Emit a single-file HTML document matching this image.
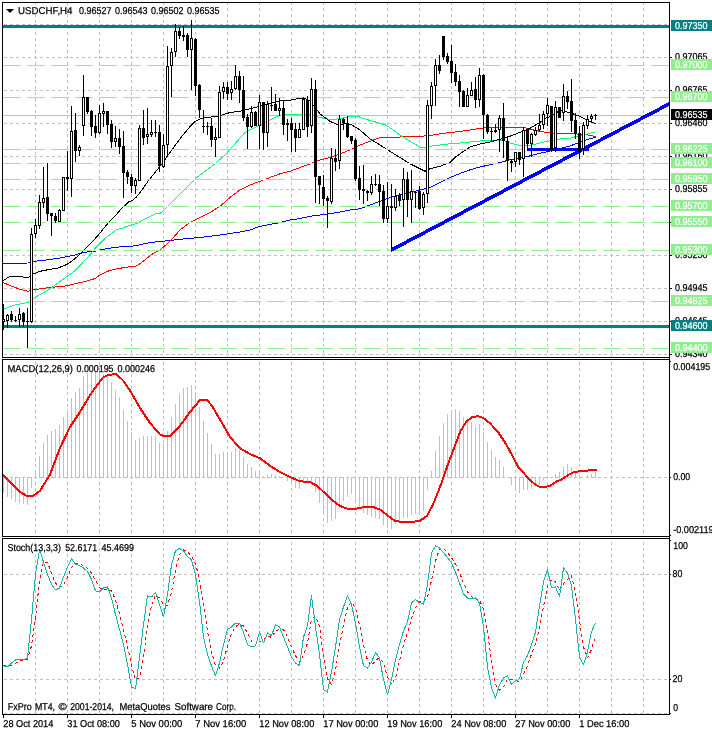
<!DOCTYPE html>
<html><head><meta charset="utf-8"><title>USDCHF,H4</title>
<style>
html,body{margin:0;padding:0;background:#fff;}
body{width:712px;height:732px;overflow:hidden;}
svg{display:block;font-family:"Liberation Sans",sans-serif;font-size:10px;}
text{stroke-width:0.25px;paint-order:stroke;}
text{white-space:pre;text-rendering:geometricPrecision;}
</style></head>
<body>
<svg width="712" height="732" viewBox="0 0 712 732">
<rect x="0" y="0" width="712" height="732" fill="#fff"/>
<g shape-rendering="crispEdges">
<line x1="35.5" y1="3" x2="35.5" y2="357" stroke="#c0c0c0" stroke-width="1" stroke-dasharray="3 3" stroke-dashoffset="1"/>
<line x1="67.5" y1="3" x2="67.5" y2="357" stroke="#c0c0c0" stroke-width="1" stroke-dasharray="3 3" stroke-dashoffset="1"/>
<line x1="99.5" y1="3" x2="99.5" y2="357" stroke="#c0c0c0" stroke-width="1" stroke-dasharray="3 3" stroke-dashoffset="1"/>
<line x1="131.5" y1="3" x2="131.5" y2="357" stroke="#c0c0c0" stroke-width="1" stroke-dasharray="3 3" stroke-dashoffset="1"/>
<line x1="163.5" y1="3" x2="163.5" y2="357" stroke="#c0c0c0" stroke-width="1" stroke-dasharray="3 3" stroke-dashoffset="1"/>
<line x1="195.5" y1="3" x2="195.5" y2="357" stroke="#c0c0c0" stroke-width="1" stroke-dasharray="3 3" stroke-dashoffset="1"/>
<line x1="227.5" y1="3" x2="227.5" y2="357" stroke="#c0c0c0" stroke-width="1" stroke-dasharray="3 3" stroke-dashoffset="1"/>
<line x1="259.5" y1="3" x2="259.5" y2="357" stroke="#c0c0c0" stroke-width="1" stroke-dasharray="3 3" stroke-dashoffset="1"/>
<line x1="291.5" y1="3" x2="291.5" y2="357" stroke="#c0c0c0" stroke-width="1" stroke-dasharray="3 3" stroke-dashoffset="1"/>
<line x1="323.5" y1="3" x2="323.5" y2="357" stroke="#c0c0c0" stroke-width="1" stroke-dasharray="3 3" stroke-dashoffset="1"/>
<line x1="355.5" y1="3" x2="355.5" y2="357" stroke="#c0c0c0" stroke-width="1" stroke-dasharray="3 3" stroke-dashoffset="1"/>
<line x1="387.5" y1="3" x2="387.5" y2="357" stroke="#c0c0c0" stroke-width="1" stroke-dasharray="3 3" stroke-dashoffset="1"/>
<line x1="419.5" y1="3" x2="419.5" y2="357" stroke="#c0c0c0" stroke-width="1" stroke-dasharray="3 3" stroke-dashoffset="1"/>
<line x1="451.5" y1="3" x2="451.5" y2="357" stroke="#c0c0c0" stroke-width="1" stroke-dasharray="3 3" stroke-dashoffset="1"/>
<line x1="483.5" y1="3" x2="483.5" y2="357" stroke="#c0c0c0" stroke-width="1" stroke-dasharray="3 3" stroke-dashoffset="1"/>
<line x1="515.5" y1="3" x2="515.5" y2="357" stroke="#c0c0c0" stroke-width="1" stroke-dasharray="3 3" stroke-dashoffset="1"/>
<line x1="547.5" y1="3" x2="547.5" y2="357" stroke="#c0c0c0" stroke-width="1" stroke-dasharray="3 3" stroke-dashoffset="1"/>
<line x1="579.5" y1="3" x2="579.5" y2="357" stroke="#c0c0c0" stroke-width="1" stroke-dasharray="3 3" stroke-dashoffset="1"/>
<line x1="611.5" y1="3" x2="611.5" y2="357" stroke="#c0c0c0" stroke-width="1" stroke-dasharray="3 3" stroke-dashoffset="1"/>
<line x1="643.5" y1="3" x2="643.5" y2="357" stroke="#c0c0c0" stroke-width="1" stroke-dasharray="3 3" stroke-dashoffset="1"/>
<line x1="35.5" y1="360" x2="35.5" y2="536" stroke="#c0c0c0" stroke-width="1" stroke-dasharray="3 3" stroke-dashoffset="4"/>
<line x1="67.5" y1="360" x2="67.5" y2="536" stroke="#c0c0c0" stroke-width="1" stroke-dasharray="3 3" stroke-dashoffset="4"/>
<line x1="99.5" y1="360" x2="99.5" y2="536" stroke="#c0c0c0" stroke-width="1" stroke-dasharray="3 3" stroke-dashoffset="4"/>
<line x1="131.5" y1="360" x2="131.5" y2="536" stroke="#c0c0c0" stroke-width="1" stroke-dasharray="3 3" stroke-dashoffset="4"/>
<line x1="163.5" y1="360" x2="163.5" y2="536" stroke="#c0c0c0" stroke-width="1" stroke-dasharray="3 3" stroke-dashoffset="4"/>
<line x1="195.5" y1="360" x2="195.5" y2="536" stroke="#c0c0c0" stroke-width="1" stroke-dasharray="3 3" stroke-dashoffset="4"/>
<line x1="227.5" y1="360" x2="227.5" y2="536" stroke="#c0c0c0" stroke-width="1" stroke-dasharray="3 3" stroke-dashoffset="4"/>
<line x1="259.5" y1="360" x2="259.5" y2="536" stroke="#c0c0c0" stroke-width="1" stroke-dasharray="3 3" stroke-dashoffset="4"/>
<line x1="291.5" y1="360" x2="291.5" y2="536" stroke="#c0c0c0" stroke-width="1" stroke-dasharray="3 3" stroke-dashoffset="4"/>
<line x1="323.5" y1="360" x2="323.5" y2="536" stroke="#c0c0c0" stroke-width="1" stroke-dasharray="3 3" stroke-dashoffset="4"/>
<line x1="355.5" y1="360" x2="355.5" y2="536" stroke="#c0c0c0" stroke-width="1" stroke-dasharray="3 3" stroke-dashoffset="4"/>
<line x1="387.5" y1="360" x2="387.5" y2="536" stroke="#c0c0c0" stroke-width="1" stroke-dasharray="3 3" stroke-dashoffset="4"/>
<line x1="419.5" y1="360" x2="419.5" y2="536" stroke="#c0c0c0" stroke-width="1" stroke-dasharray="3 3" stroke-dashoffset="4"/>
<line x1="451.5" y1="360" x2="451.5" y2="536" stroke="#c0c0c0" stroke-width="1" stroke-dasharray="3 3" stroke-dashoffset="4"/>
<line x1="483.5" y1="360" x2="483.5" y2="536" stroke="#c0c0c0" stroke-width="1" stroke-dasharray="3 3" stroke-dashoffset="4"/>
<line x1="515.5" y1="360" x2="515.5" y2="536" stroke="#c0c0c0" stroke-width="1" stroke-dasharray="3 3" stroke-dashoffset="4"/>
<line x1="547.5" y1="360" x2="547.5" y2="536" stroke="#c0c0c0" stroke-width="1" stroke-dasharray="3 3" stroke-dashoffset="4"/>
<line x1="579.5" y1="360" x2="579.5" y2="536" stroke="#c0c0c0" stroke-width="1" stroke-dasharray="3 3" stroke-dashoffset="4"/>
<line x1="611.5" y1="360" x2="611.5" y2="536" stroke="#c0c0c0" stroke-width="1" stroke-dasharray="3 3" stroke-dashoffset="4"/>
<line x1="643.5" y1="360" x2="643.5" y2="536" stroke="#c0c0c0" stroke-width="1" stroke-dasharray="3 3" stroke-dashoffset="4"/>
<line x1="35.5" y1="539" x2="35.5" y2="714" stroke="#c0c0c0" stroke-width="1" stroke-dasharray="3 3" stroke-dashoffset="3"/>
<line x1="67.5" y1="539" x2="67.5" y2="714" stroke="#c0c0c0" stroke-width="1" stroke-dasharray="3 3" stroke-dashoffset="3"/>
<line x1="99.5" y1="539" x2="99.5" y2="714" stroke="#c0c0c0" stroke-width="1" stroke-dasharray="3 3" stroke-dashoffset="3"/>
<line x1="131.5" y1="539" x2="131.5" y2="714" stroke="#c0c0c0" stroke-width="1" stroke-dasharray="3 3" stroke-dashoffset="3"/>
<line x1="163.5" y1="539" x2="163.5" y2="714" stroke="#c0c0c0" stroke-width="1" stroke-dasharray="3 3" stroke-dashoffset="3"/>
<line x1="195.5" y1="539" x2="195.5" y2="714" stroke="#c0c0c0" stroke-width="1" stroke-dasharray="3 3" stroke-dashoffset="3"/>
<line x1="227.5" y1="539" x2="227.5" y2="714" stroke="#c0c0c0" stroke-width="1" stroke-dasharray="3 3" stroke-dashoffset="3"/>
<line x1="259.5" y1="539" x2="259.5" y2="714" stroke="#c0c0c0" stroke-width="1" stroke-dasharray="3 3" stroke-dashoffset="3"/>
<line x1="291.5" y1="539" x2="291.5" y2="714" stroke="#c0c0c0" stroke-width="1" stroke-dasharray="3 3" stroke-dashoffset="3"/>
<line x1="323.5" y1="539" x2="323.5" y2="714" stroke="#c0c0c0" stroke-width="1" stroke-dasharray="3 3" stroke-dashoffset="3"/>
<line x1="355.5" y1="539" x2="355.5" y2="714" stroke="#c0c0c0" stroke-width="1" stroke-dasharray="3 3" stroke-dashoffset="3"/>
<line x1="387.5" y1="539" x2="387.5" y2="714" stroke="#c0c0c0" stroke-width="1" stroke-dasharray="3 3" stroke-dashoffset="3"/>
<line x1="419.5" y1="539" x2="419.5" y2="714" stroke="#c0c0c0" stroke-width="1" stroke-dasharray="3 3" stroke-dashoffset="3"/>
<line x1="451.5" y1="539" x2="451.5" y2="714" stroke="#c0c0c0" stroke-width="1" stroke-dasharray="3 3" stroke-dashoffset="3"/>
<line x1="483.5" y1="539" x2="483.5" y2="714" stroke="#c0c0c0" stroke-width="1" stroke-dasharray="3 3" stroke-dashoffset="3"/>
<line x1="515.5" y1="539" x2="515.5" y2="714" stroke="#c0c0c0" stroke-width="1" stroke-dasharray="3 3" stroke-dashoffset="3"/>
<line x1="547.5" y1="539" x2="547.5" y2="714" stroke="#c0c0c0" stroke-width="1" stroke-dasharray="3 3" stroke-dashoffset="3"/>
<line x1="579.5" y1="539" x2="579.5" y2="714" stroke="#c0c0c0" stroke-width="1" stroke-dasharray="3 3" stroke-dashoffset="3"/>
<line x1="611.5" y1="539" x2="611.5" y2="714" stroke="#c0c0c0" stroke-width="1" stroke-dasharray="3 3" stroke-dashoffset="3"/>
<line x1="643.5" y1="539" x2="643.5" y2="714" stroke="#c0c0c0" stroke-width="1" stroke-dasharray="3 3" stroke-dashoffset="3"/>
<line x1="4" y1="24.5" x2="669" y2="24.5" stroke="#c0c0c0" stroke-width="1" stroke-dasharray="3 3"/>
<line x1="4" y1="57.5" x2="669" y2="57.5" stroke="#c0c0c0" stroke-width="1" stroke-dasharray="3 3"/>
<line x1="4" y1="90.5" x2="669" y2="90.5" stroke="#c0c0c0" stroke-width="1" stroke-dasharray="3 3"/>
<line x1="4" y1="123.5" x2="669" y2="123.5" stroke="#c0c0c0" stroke-width="1" stroke-dasharray="3 3"/>
<line x1="4" y1="156.5" x2="669" y2="156.5" stroke="#c0c0c0" stroke-width="1" stroke-dasharray="3 3"/>
<line x1="4" y1="189.5" x2="669" y2="189.5" stroke="#c0c0c0" stroke-width="1" stroke-dasharray="3 3"/>
<line x1="4" y1="222.5" x2="669" y2="222.5" stroke="#c0c0c0" stroke-width="1" stroke-dasharray="3 3"/>
<line x1="4" y1="255.5" x2="669" y2="255.5" stroke="#c0c0c0" stroke-width="1" stroke-dasharray="3 3"/>
<line x1="4" y1="288.5" x2="669" y2="288.5" stroke="#c0c0c0" stroke-width="1" stroke-dasharray="3 3"/>
<line x1="4" y1="321.5" x2="669" y2="321.5" stroke="#c0c0c0" stroke-width="1" stroke-dasharray="3 3"/>
<line x1="4" y1="354.5" x2="669" y2="354.5" stroke="#c0c0c0" stroke-width="1" stroke-dasharray="3 3"/>
<line x1="4" y1="477.5" x2="669" y2="477.5" stroke="#c0c0c0" stroke-width="1" stroke-dasharray="3 3"/>
<line x1="4" y1="574.5" x2="669" y2="574.5" stroke="#c0c0c0" stroke-width="1" stroke-dasharray="3 3"/>
<line x1="4" y1="679.5" x2="669" y2="679.5" stroke="#c0c0c0" stroke-width="1" stroke-dasharray="3 3"/>
<line x1="4" y1="713.5" x2="669" y2="713.5" stroke="#c0c0c0" stroke-width="1" stroke-dasharray="3 3"/>
<line x1="3" y1="115.5" x2="669" y2="115.5" stroke="#c0c0c0" stroke-width="1"/>
<rect x="3" y="477.0" width="1" height="16.0" fill="#c0c0c0"/>
<rect x="7" y="477.0" width="1" height="20.0" fill="#c0c0c0"/>
<rect x="11" y="477.0" width="1" height="22.0" fill="#c0c0c0"/>
<rect x="15" y="477.0" width="1" height="25.0" fill="#c0c0c0"/>
<rect x="19" y="477.0" width="1" height="26.0" fill="#c0c0c0"/>
<rect x="23" y="477.0" width="1" height="27.0" fill="#c0c0c0"/>
<rect x="27" y="477.0" width="1" height="28.0" fill="#c0c0c0"/>
<rect x="31" y="477.0" width="1" height="11.0" fill="#c0c0c0"/>
<rect x="35" y="473" width="1" height="5.0" fill="#c0c0c0"/>
<rect x="39" y="456" width="1" height="22.0" fill="#c0c0c0"/>
<rect x="43" y="443" width="1" height="35.0" fill="#c0c0c0"/>
<rect x="47" y="435" width="1" height="43.0" fill="#c0c0c0"/>
<rect x="51" y="431" width="1" height="47.0" fill="#c0c0c0"/>
<rect x="55" y="429" width="1" height="49.0" fill="#c0c0c0"/>
<rect x="59" y="425" width="1" height="53.0" fill="#c0c0c0"/>
<rect x="63" y="417" width="1" height="61.0" fill="#c0c0c0"/>
<rect x="67" y="410" width="1" height="68.0" fill="#c0c0c0"/>
<rect x="71" y="398" width="1" height="80.0" fill="#c0c0c0"/>
<rect x="75" y="392" width="1" height="86.0" fill="#c0c0c0"/>
<rect x="79" y="388" width="1" height="90.0" fill="#c0c0c0"/>
<rect x="83" y="376" width="1" height="102.0" fill="#c0c0c0"/>
<rect x="87" y="373" width="1" height="105.0" fill="#c0c0c0"/>
<rect x="91" y="372" width="1" height="106.0" fill="#c0c0c0"/>
<rect x="95" y="371" width="1" height="107.0" fill="#c0c0c0"/>
<rect x="99" y="372" width="1" height="106.0" fill="#c0c0c0"/>
<rect x="103" y="374" width="1" height="104.0" fill="#c0c0c0"/>
<rect x="107" y="376" width="1" height="102.0" fill="#c0c0c0"/>
<rect x="111" y="382" width="1" height="96.0" fill="#c0c0c0"/>
<rect x="115" y="390" width="1" height="88.0" fill="#c0c0c0"/>
<rect x="119" y="397" width="1" height="81.0" fill="#c0c0c0"/>
<rect x="123" y="410" width="1" height="68.0" fill="#c0c0c0"/>
<rect x="127" y="421" width="1" height="57.0" fill="#c0c0c0"/>
<rect x="131" y="432" width="1" height="46.0" fill="#c0c0c0"/>
<rect x="135" y="440" width="1" height="38.0" fill="#c0c0c0"/>
<rect x="139" y="438" width="1" height="40.0" fill="#c0c0c0"/>
<rect x="143" y="436" width="1" height="42.0" fill="#c0c0c0"/>
<rect x="147" y="436" width="1" height="42.0" fill="#c0c0c0"/>
<rect x="151" y="436" width="1" height="42.0" fill="#c0c0c0"/>
<rect x="155" y="436" width="1" height="42.0" fill="#c0c0c0"/>
<rect x="159" y="443" width="1" height="35.0" fill="#c0c0c0"/>
<rect x="163" y="444" width="1" height="34.0" fill="#c0c0c0"/>
<rect x="167" y="431" width="1" height="47.0" fill="#c0c0c0"/>
<rect x="171" y="417" width="1" height="61.0" fill="#c0c0c0"/>
<rect x="175" y="404" width="1" height="74.0" fill="#c0c0c0"/>
<rect x="179" y="394" width="1" height="84.0" fill="#c0c0c0"/>
<rect x="183" y="388" width="1" height="90.0" fill="#c0c0c0"/>
<rect x="187" y="387" width="1" height="91.0" fill="#c0c0c0"/>
<rect x="191" y="385" width="1" height="93.0" fill="#c0c0c0"/>
<rect x="195" y="392" width="1" height="86.0" fill="#c0c0c0"/>
<rect x="199" y="407" width="1" height="71.0" fill="#c0c0c0"/>
<rect x="203" y="421" width="1" height="57.0" fill="#c0c0c0"/>
<rect x="207" y="433" width="1" height="45.0" fill="#c0c0c0"/>
<rect x="211" y="444" width="1" height="34.0" fill="#c0c0c0"/>
<rect x="215" y="454" width="1" height="24.0" fill="#c0c0c0"/>
<rect x="219" y="454" width="1" height="24.0" fill="#c0c0c0"/>
<rect x="223" y="452" width="1" height="26.0" fill="#c0c0c0"/>
<rect x="227" y="452" width="1" height="26.0" fill="#c0c0c0"/>
<rect x="231" y="452" width="1" height="26.0" fill="#c0c0c0"/>
<rect x="235" y="448" width="1" height="30.0" fill="#c0c0c0"/>
<rect x="239" y="450" width="1" height="28.0" fill="#c0c0c0"/>
<rect x="243" y="457" width="1" height="21.0" fill="#c0c0c0"/>
<rect x="247" y="464" width="1" height="14.0" fill="#c0c0c0"/>
<rect x="251" y="467" width="1" height="11.0" fill="#c0c0c0"/>
<rect x="255" y="471" width="1" height="7.0" fill="#c0c0c0"/>
<rect x="259" y="472" width="1" height="6.0" fill="#c0c0c0"/>
<rect x="263" y="476" width="1" height="2.0" fill="#c0c0c0"/>
<rect x="267" y="475" width="1" height="3.0" fill="#c0c0c0"/>
<rect x="271" y="474" width="1" height="4.0" fill="#c0c0c0"/>
<rect x="275" y="475" width="1" height="3.0" fill="#c0c0c0"/>
<rect x="279" y="476" width="1" height="2.0" fill="#c0c0c0"/>
<rect x="287" y="477.0" width="1" height="4.0" fill="#c0c0c0"/>
<rect x="291" y="477.0" width="1" height="6.0" fill="#c0c0c0"/>
<rect x="295" y="477.0" width="1" height="11.0" fill="#c0c0c0"/>
<rect x="299" y="477.0" width="1" height="12.0" fill="#c0c0c0"/>
<rect x="303" y="477.0" width="1" height="6.0" fill="#c0c0c0"/>
<rect x="307" y="477.0" width="1" height="6.0" fill="#c0c0c0"/>
<rect x="311" y="477.0" width="1" height="5.0" fill="#c0c0c0"/>
<rect x="315" y="477.0" width="1" height="15.0" fill="#c0c0c0"/>
<rect x="319" y="477.0" width="1" height="26.0" fill="#c0c0c0"/>
<rect x="323" y="477.0" width="1" height="38.0" fill="#c0c0c0"/>
<rect x="327" y="477.0" width="1" height="46.0" fill="#c0c0c0"/>
<rect x="331" y="477.0" width="1" height="44.0" fill="#c0c0c0"/>
<rect x="335" y="477.0" width="1" height="42.0" fill="#c0c0c0"/>
<rect x="339" y="477.0" width="1" height="31.0" fill="#c0c0c0"/>
<rect x="343" y="477.0" width="1" height="24.0" fill="#c0c0c0"/>
<rect x="347" y="477.0" width="1" height="20.0" fill="#c0c0c0"/>
<rect x="351" y="477.0" width="1" height="17.0" fill="#c0c0c0"/>
<rect x="355" y="477.0" width="1" height="26.0" fill="#c0c0c0"/>
<rect x="359" y="477.0" width="1" height="31.0" fill="#c0c0c0"/>
<rect x="363" y="477.0" width="1" height="36.0" fill="#c0c0c0"/>
<rect x="367" y="477.0" width="1" height="38.0" fill="#c0c0c0"/>
<rect x="371" y="477.0" width="1" height="40.0" fill="#c0c0c0"/>
<rect x="375" y="477.0" width="1" height="41.0" fill="#c0c0c0"/>
<rect x="379" y="477.0" width="1" height="42.0" fill="#c0c0c0"/>
<rect x="383" y="477.0" width="1" height="48.0" fill="#c0c0c0"/>
<rect x="387" y="477.0" width="1" height="51.0" fill="#c0c0c0"/>
<rect x="391" y="477.0" width="1" height="52.0" fill="#c0c0c0"/>
<rect x="395" y="477.0" width="1" height="47.0" fill="#c0c0c0"/>
<rect x="399" y="477.0" width="1" height="45.0" fill="#c0c0c0"/>
<rect x="403" y="477.0" width="1" height="41.0" fill="#c0c0c0"/>
<rect x="407" y="477.0" width="1" height="41.0" fill="#c0c0c0"/>
<rect x="411" y="477.0" width="1" height="38.0" fill="#c0c0c0"/>
<rect x="415" y="477.0" width="1" height="37.0" fill="#c0c0c0"/>
<rect x="419" y="477.0" width="1" height="38.0" fill="#c0c0c0"/>
<rect x="423" y="477.0" width="1" height="34.0" fill="#c0c0c0"/>
<rect x="427" y="477.0" width="1" height="13.0" fill="#c0c0c0"/>
<rect x="431" y="471" width="1" height="7.0" fill="#c0c0c0"/>
<rect x="435" y="451" width="1" height="27.0" fill="#c0c0c0"/>
<rect x="439" y="436" width="1" height="42.0" fill="#c0c0c0"/>
<rect x="443" y="423" width="1" height="55.0" fill="#c0c0c0"/>
<rect x="447" y="414" width="1" height="64.0" fill="#c0c0c0"/>
<rect x="451" y="410" width="1" height="68.0" fill="#c0c0c0"/>
<rect x="455" y="409" width="1" height="69.0" fill="#c0c0c0"/>
<rect x="459" y="411" width="1" height="67.0" fill="#c0c0c0"/>
<rect x="463" y="417" width="1" height="61.0" fill="#c0c0c0"/>
<rect x="467" y="420" width="1" height="58.0" fill="#c0c0c0"/>
<rect x="471" y="422" width="1" height="56.0" fill="#c0c0c0"/>
<rect x="475" y="426" width="1" height="52.0" fill="#c0c0c0"/>
<rect x="479" y="424" width="1" height="54.0" fill="#c0c0c0"/>
<rect x="483" y="432" width="1" height="46.0" fill="#c0c0c0"/>
<rect x="487" y="442" width="1" height="36.0" fill="#c0c0c0"/>
<rect x="491" y="450" width="1" height="28.0" fill="#c0c0c0"/>
<rect x="495" y="457" width="1" height="21.0" fill="#c0c0c0"/>
<rect x="499" y="460" width="1" height="18.0" fill="#c0c0c0"/>
<rect x="503" y="467" width="1" height="11.0" fill="#c0c0c0"/>
<rect x="511" y="477.0" width="1" height="8.0" fill="#c0c0c0"/>
<rect x="515" y="477.0" width="1" height="14.0" fill="#c0c0c0"/>
<rect x="519" y="477.0" width="1" height="16.0" fill="#c0c0c0"/>
<rect x="523" y="477.0" width="1" height="13.0" fill="#c0c0c0"/>
<rect x="527" y="477.0" width="1" height="13.0" fill="#c0c0c0"/>
<rect x="531" y="477.0" width="1" height="12.0" fill="#c0c0c0"/>
<rect x="535" y="477.0" width="1" height="8.0" fill="#c0c0c0"/>
<rect x="539" y="477.0" width="1" height="8.0" fill="#c0c0c0"/>
<rect x="543" y="477.0" width="1" height="3.0" fill="#c0c0c0"/>
<rect x="555" y="474" width="1" height="4.0" fill="#c0c0c0"/>
<rect x="559" y="472" width="1" height="6.0" fill="#c0c0c0"/>
<rect x="563" y="467" width="1" height="11.0" fill="#c0c0c0"/>
<rect x="567" y="464" width="1" height="14.0" fill="#c0c0c0"/>
<rect x="571" y="467" width="1" height="11.0" fill="#c0c0c0"/>
<rect x="575" y="472" width="1" height="6.0" fill="#c0c0c0"/>
<rect x="579" y="475" width="1" height="3.0" fill="#c0c0c0"/>
<rect x="587" y="475" width="1" height="3.0" fill="#c0c0c0"/>
<rect x="591" y="474" width="1" height="4.0" fill="#c0c0c0"/>
<rect x="595" y="472" width="1" height="6.0" fill="#c0c0c0"/>
</g>
<g shape-rendering="crispEdges" stroke-linejoin="round">
<polyline points="3.0,263.3 28.0,263.0 35.0,261.3 50.0,259.5 60.0,258.0 74.0,255.2 83.9,252.4 96.6,251.0 100.8,249.6 116.3,247.2 136.0,245.8 144.4,243.6 155.6,241.9 160.0,241.6 180.0,239.3 200.0,237.5 220.0,235.0 240.0,232.0 250.0,230.0 260.0,226.3 270.0,224.5 280.0,222.5 290.0,220.0 300.0,218.5 310.0,216.3 320.0,215.0 330.0,213.8 340.0,212.0 350.0,210.0 360.0,208.8 370.0,205.0 380.0,201.3 390.0,197.5 400.0,195.0 410.0,192.5 420.0,190.0 430.0,187.5 435.0,185.0 440.0,182.5 450.0,177.5 460.0,173.5 470.0,169.8 480.0,167.0 490.0,164.8 500.0,162.5 510.0,159.8 520.0,157.8 530.0,155.9 540.0,153.3 550.0,151.0 560.0,148.6 570.0,146.0 580.0,142.1 590.0,138.8 595.5,137.2" fill="none" stroke="#0000ff" stroke-width="1" />
<polyline points="3.0,282.5 10.0,285.5 20.0,289.3 28.0,291.3 35.0,289.5 50.0,287.5 67.0,285.8 80.0,282.5 81.1,282.7 95.2,278.5 100.0,275.0 109.2,270.7 117.7,268.6 124.7,267.5 136.0,266.0 140.2,263.7 147.2,258.0 152.8,253.8 160.0,250.0 170.0,241.3 180.0,230.0 190.0,222.5 200.0,217.5 210.0,212.5 220.0,206.3 230.0,197.5 240.0,190.0 250.0,185.0 260.0,181.3 270.0,177.5 280.0,173.8 290.0,171.3 300.0,167.5 310.0,163.8 320.0,160.0 330.0,157.5 340.0,153.8 350.0,150.0 360.0,145.0 370.0,141.3 380.0,137.5 390.0,137.0 400.0,137.0 410.0,136.3 420.0,136.3 430.0,135.5 440.0,133.8 450.0,132.5 460.0,131.5 470.0,130.0 480.0,128.3 490.0,127.4 500.0,127.0 510.0,127.0 520.0,127.4 525.0,127.5 530.0,129.3 540.0,131.3 550.0,132.9 560.0,133.6 570.0,133.6 580.0,134.2 590.0,135.2 595.5,136.6" fill="none" stroke="#ff0000" stroke-width="1" />
<polyline points="3.0,309.3 15.0,305.0 28.0,302.5 35.0,297.5 50.0,288.8 60.0,281.3 66.3,277.0 74.0,271.4 81.1,264.4 89.5,255.2 96.6,246.8 103.6,239.8 110.6,234.1 116.3,229.9 123.3,227.8 130.3,225.3 136.6,223.6 143.0,220.1 150.0,216.6 155.6,213.8 160.0,213.3 163.0,211.3 170.0,203.8 180.0,193.8 195.0,178.8 205.0,171.3 215.0,163.8 225.0,155.0 235.0,143.8 245.0,132.5 255.0,127.5 265.0,122.5 275.0,117.5 283.0,114.5 290.0,114.5 300.0,114.5 310.0,115.0 320.0,117.5 330.0,119.5 340.0,118.8 350.0,116.3 358.0,116.5 365.0,119.0 372.0,121.0 380.0,123.3 385.0,124.7 390.0,127.8 400.0,135.0 410.0,141.3 420.0,147.0 425.0,148.0 430.0,146.3 440.0,145.0 450.0,143.8 460.0,143.0 470.0,142.0 480.0,141.0 490.0,140.7 500.0,140.1 505.0,141.0 510.0,143.0 520.0,145.4 525.0,146.0 530.0,145.4 540.0,143.0 550.0,140.7 560.0,139.0 570.0,138.2 580.0,135.6 590.0,133.3 595.5,131.9" fill="none" stroke="#00ff7f" stroke-width="1" />
<polyline points="3.0,280.8 8.0,277.5 12.0,276.0 18.0,276.0 25.0,277.5 28.0,278.0 32.0,274.5 40.0,271.3 50.0,269.3 58.0,268.0 60.0,267.2 67.0,264.4 74.0,259.5 81.1,253.1 88.1,246.1 97.3,236.3 106.4,225.0 117.7,213.0 121.9,208.1 128.9,201.8 132.4,200.4 136.6,196.9 143.0,188.4 148.6,180.5 150.0,178.8 160.0,166.3 170.0,152.5 180.0,138.8 190.0,126.5 195.0,121.5 200.0,119.0 205.0,117.6 210.0,117.2 220.0,115.8 230.0,112.5 240.0,111.3 250.0,108.8 260.0,106.3 270.0,103.5 280.0,101.0 290.0,100.2 300.0,98.3 305.0,98.3 310.0,101.0 315.0,107.5 320.0,113.8 330.0,121.3 338.0,125.0 345.0,123.8 352.0,125.0 360.0,130.0 370.0,138.8 380.0,145.0 390.0,151.3 400.0,157.5 410.0,163.8 420.0,168.8 425.0,171.3 430.0,168.8 440.0,166.3 450.0,162.5 455.0,157.5 460.0,153.8 470.0,147.0 480.0,144.0 490.0,142.0 500.0,139.2 510.0,136.2 520.0,132.3 530.0,128.3 540.0,122.4 545.0,118.5 550.0,116.5 555.0,113.6 560.0,110.6 565.0,111.6 570.0,112.6 575.0,114.6 580.0,116.5 585.0,119.1 590.0,121.5 595.5,123.7" fill="none" stroke="#000000" stroke-width="1" />
</g>
<g shape-rendering="crispEdges">
<line x1="3" y1="65.5" x2="669" y2="65.5" stroke="#fff" stroke-width="1"/>
<line x1="3" y1="65.5" x2="669" y2="65.5" stroke="#90ee90" stroke-width="1" stroke-dasharray="18 6"/>
<line x1="3" y1="97.5" x2="669" y2="97.5" stroke="#fff" stroke-width="1"/>
<line x1="3" y1="97.5" x2="669" y2="97.5" stroke="#90ee90" stroke-width="1" stroke-dasharray="18 6"/>
<line x1="3" y1="149.5" x2="669" y2="149.5" stroke="#fff" stroke-width="1"/>
<line x1="3" y1="149.5" x2="669" y2="149.5" stroke="#90ee90" stroke-width="1" stroke-dasharray="18 6"/>
<line x1="3" y1="163.5" x2="669" y2="163.5" stroke="#fff" stroke-width="1"/>
<line x1="3" y1="163.5" x2="669" y2="163.5" stroke="#90ee90" stroke-width="1" stroke-dasharray="18 6"/>
<line x1="3" y1="179.5" x2="669" y2="179.5" stroke="#fff" stroke-width="1"/>
<line x1="3" y1="179.5" x2="669" y2="179.5" stroke="#90ee90" stroke-width="1" stroke-dasharray="18 6"/>
<line x1="3" y1="206.5" x2="669" y2="206.5" stroke="#fff" stroke-width="1"/>
<line x1="3" y1="206.5" x2="669" y2="206.5" stroke="#90ee90" stroke-width="1" stroke-dasharray="18 6"/>
<line x1="3" y1="222.5" x2="669" y2="222.5" stroke="#fff" stroke-width="1"/>
<line x1="3" y1="222.5" x2="669" y2="222.5" stroke="#90ee90" stroke-width="1" stroke-dasharray="18 6"/>
<line x1="3" y1="250.5" x2="669" y2="250.5" stroke="#fff" stroke-width="1"/>
<line x1="3" y1="250.5" x2="669" y2="250.5" stroke="#90ee90" stroke-width="1" stroke-dasharray="18 6"/>
<line x1="3" y1="301.5" x2="669" y2="301.5" stroke="#fff" stroke-width="1"/>
<line x1="3" y1="301.5" x2="669" y2="301.5" stroke="#90ee90" stroke-width="1" stroke-dasharray="18 6"/>
<line x1="3" y1="348.5" x2="669" y2="348.5" stroke="#fff" stroke-width="1"/>
<line x1="3" y1="348.5" x2="669" y2="348.5" stroke="#90ee90" stroke-width="1" stroke-dasharray="18 6"/>
</g>
<g shape-rendering="crispEdges">
<rect x="3" y="25" width="666" height="3" fill="#008080"/>
<rect x="3" y="325" width="666" height="3" fill="#008080"/>
<rect x="527" y="148" width="62" height="3" fill="#0000ff"/>
<polygon points="390.5,248.4 669.0,102.0 669.0,106.0 390.5,252.4" fill="#0000ff"/>
</g>
<g shape-rendering="crispEdges">
<rect x="3" y="304" width="1" height="26" fill="#000"/>
<rect x="2" y="319" width="3" height="3" fill="#000"/>
<rect x="3" y="320" width="1" height="1" fill="#fff"/>
<rect x="7" y="314" width="1" height="14" fill="#000"/>
<rect x="6" y="315" width="3" height="6" fill="#000"/>
<rect x="7" y="316" width="1" height="4" fill="#fff"/>
<rect x="11" y="311" width="1" height="11" fill="#000"/>
<rect x="10" y="314" width="3" height="6" fill="#000"/>
<rect x="15" y="316" width="1" height="6" fill="#000"/>
<rect x="14" y="320" width="3" height="1" fill="#000"/>
<rect x="19" y="308" width="1" height="19" fill="#000"/>
<rect x="18" y="314" width="3" height="6" fill="#000"/>
<rect x="19" y="315" width="1" height="4" fill="#fff"/>
<rect x="23" y="312" width="1" height="15" fill="#000"/>
<rect x="22" y="313" width="3" height="9" fill="#000"/>
<rect x="27" y="308" width="1" height="40" fill="#000"/>
<rect x="26" y="321" width="3" height="1" fill="#000"/>
<rect x="31" y="228" width="1" height="95" fill="#000"/>
<rect x="30" y="234" width="3" height="88" fill="#000"/>
<rect x="31" y="235" width="1" height="86" fill="#fff"/>
<rect x="35" y="219" width="1" height="19" fill="#000"/>
<rect x="34" y="225" width="3" height="9" fill="#000"/>
<rect x="35" y="226" width="1" height="7" fill="#fff"/>
<rect x="39" y="195" width="1" height="34" fill="#000"/>
<rect x="38" y="202" width="3" height="24" fill="#000"/>
<rect x="39" y="203" width="1" height="22" fill="#fff"/>
<rect x="43" y="167" width="1" height="41" fill="#000"/>
<rect x="42" y="198" width="3" height="5" fill="#000"/>
<rect x="43" y="199" width="1" height="3" fill="#fff"/>
<rect x="47" y="163" width="1" height="58" fill="#000"/>
<rect x="46" y="197" width="3" height="17" fill="#000"/>
<rect x="51" y="213" width="1" height="23" fill="#000"/>
<rect x="50" y="213" width="3" height="3" fill="#000"/>
<rect x="55" y="213" width="1" height="10" fill="#000"/>
<rect x="54" y="216" width="3" height="5" fill="#000"/>
<rect x="59" y="209" width="1" height="13" fill="#000"/>
<rect x="58" y="210" width="3" height="12" fill="#000"/>
<rect x="59" y="211" width="1" height="10" fill="#fff"/>
<rect x="63" y="177" width="1" height="34" fill="#000"/>
<rect x="62" y="177" width="3" height="34" fill="#000"/>
<rect x="63" y="178" width="1" height="32" fill="#fff"/>
<rect x="67" y="151" width="1" height="40" fill="#000"/>
<rect x="66" y="177" width="3" height="2" fill="#000"/>
<rect x="71" y="106" width="1" height="91" fill="#000"/>
<rect x="70" y="131" width="3" height="48" fill="#000"/>
<rect x="71" y="132" width="1" height="46" fill="#fff"/>
<rect x="75" y="113" width="1" height="49" fill="#000"/>
<rect x="74" y="130" width="3" height="21" fill="#000"/>
<rect x="79" y="145" width="1" height="11" fill="#000"/>
<rect x="78" y="147" width="3" height="4" fill="#000"/>
<rect x="79" y="148" width="1" height="2" fill="#fff"/>
<rect x="83" y="75" width="1" height="61" fill="#000"/>
<rect x="82" y="97" width="3" height="29" fill="#000"/>
<rect x="83" y="98" width="1" height="27" fill="#fff"/>
<rect x="87" y="97" width="1" height="17" fill="#000"/>
<rect x="86" y="97" width="3" height="15" fill="#000"/>
<rect x="91" y="110" width="1" height="26" fill="#000"/>
<rect x="90" y="111" width="3" height="16" fill="#000"/>
<rect x="95" y="115" width="1" height="23" fill="#000"/>
<rect x="94" y="126" width="3" height="7" fill="#000"/>
<rect x="99" y="105" width="1" height="29" fill="#000"/>
<rect x="98" y="113" width="3" height="20" fill="#000"/>
<rect x="99" y="114" width="1" height="18" fill="#fff"/>
<rect x="103" y="103" width="1" height="24" fill="#000"/>
<rect x="102" y="111" width="3" height="3" fill="#000"/>
<rect x="103" y="112" width="1" height="1" fill="#fff"/>
<rect x="107" y="111" width="1" height="23" fill="#000"/>
<rect x="106" y="111" width="3" height="14" fill="#000"/>
<rect x="111" y="120" width="1" height="28" fill="#000"/>
<rect x="110" y="124" width="3" height="18" fill="#000"/>
<rect x="115" y="126" width="1" height="21" fill="#000"/>
<rect x="114" y="138" width="3" height="4" fill="#000"/>
<rect x="115" y="139" width="1" height="2" fill="#fff"/>
<rect x="119" y="129" width="1" height="25" fill="#000"/>
<rect x="118" y="138" width="3" height="9" fill="#000"/>
<rect x="123" y="131" width="1" height="67" fill="#000"/>
<rect x="122" y="146" width="3" height="27" fill="#000"/>
<rect x="127" y="170" width="1" height="14" fill="#000"/>
<rect x="126" y="172" width="3" height="5" fill="#000"/>
<rect x="131" y="174" width="1" height="19" fill="#000"/>
<rect x="130" y="177" width="3" height="9" fill="#000"/>
<rect x="135" y="178" width="1" height="16" fill="#000"/>
<rect x="134" y="180" width="3" height="6" fill="#000"/>
<rect x="135" y="181" width="1" height="4" fill="#fff"/>
<rect x="139" y="125" width="1" height="56" fill="#000"/>
<rect x="138" y="128" width="3" height="53" fill="#000"/>
<rect x="139" y="129" width="1" height="51" fill="#fff"/>
<rect x="143" y="110" width="1" height="35" fill="#000"/>
<rect x="142" y="128" width="3" height="10" fill="#000"/>
<rect x="147" y="108" width="1" height="36" fill="#000"/>
<rect x="146" y="134" width="3" height="3" fill="#000"/>
<rect x="147" y="135" width="1" height="1" fill="#fff"/>
<rect x="151" y="120" width="1" height="17" fill="#000"/>
<rect x="150" y="132" width="3" height="3" fill="#000"/>
<rect x="151" y="133" width="1" height="1" fill="#fff"/>
<rect x="155" y="120" width="1" height="17" fill="#000"/>
<rect x="154" y="132" width="3" height="1" fill="#000"/>
<rect x="159" y="125" width="1" height="47" fill="#000"/>
<rect x="158" y="132" width="3" height="34" fill="#000"/>
<rect x="163" y="134" width="1" height="34" fill="#000"/>
<rect x="162" y="145" width="3" height="22" fill="#000"/>
<rect x="163" y="146" width="1" height="20" fill="#fff"/>
<rect x="167" y="46" width="1" height="111" fill="#000"/>
<rect x="166" y="66" width="3" height="79" fill="#000"/>
<rect x="167" y="67" width="1" height="77" fill="#fff"/>
<rect x="171" y="48" width="1" height="49" fill="#000"/>
<rect x="170" y="52" width="3" height="14" fill="#000"/>
<rect x="171" y="53" width="1" height="12" fill="#fff"/>
<rect x="175" y="24" width="1" height="33" fill="#000"/>
<rect x="174" y="31" width="3" height="21" fill="#000"/>
<rect x="175" y="32" width="1" height="19" fill="#fff"/>
<rect x="179" y="27" width="1" height="12" fill="#000"/>
<rect x="178" y="31" width="3" height="5" fill="#000"/>
<rect x="183" y="26" width="1" height="15" fill="#000"/>
<rect x="182" y="35" width="3" height="2" fill="#000"/>
<rect x="187" y="33" width="1" height="24" fill="#000"/>
<rect x="186" y="35" width="3" height="15" fill="#000"/>
<rect x="191" y="20" width="1" height="70" fill="#000"/>
<rect x="190" y="38" width="3" height="12" fill="#000"/>
<rect x="191" y="39" width="1" height="10" fill="#fff"/>
<rect x="195" y="38" width="1" height="58" fill="#000"/>
<rect x="194" y="39" width="3" height="47" fill="#000"/>
<rect x="199" y="84" width="1" height="34" fill="#000"/>
<rect x="198" y="85" width="3" height="25" fill="#000"/>
<rect x="203" y="110" width="1" height="23" fill="#000"/>
<rect x="202" y="126" width="3" height="1" fill="#000"/>
<rect x="207" y="122" width="1" height="13" fill="#000"/>
<rect x="206" y="126" width="3" height="1" fill="#000"/>
<rect x="211" y="118" width="1" height="29" fill="#000"/>
<rect x="210" y="126" width="3" height="14" fill="#000"/>
<rect x="215" y="128" width="1" height="29" fill="#000"/>
<rect x="214" y="137" width="3" height="3" fill="#000"/>
<rect x="215" y="138" width="1" height="1" fill="#fff"/>
<rect x="219" y="86" width="1" height="52" fill="#000"/>
<rect x="218" y="92" width="3" height="46" fill="#000"/>
<rect x="219" y="93" width="1" height="44" fill="#fff"/>
<rect x="223" y="82" width="1" height="17" fill="#000"/>
<rect x="222" y="87" width="3" height="5" fill="#000"/>
<rect x="223" y="88" width="1" height="3" fill="#fff"/>
<rect x="227" y="82" width="1" height="18" fill="#000"/>
<rect x="226" y="87" width="3" height="7" fill="#000"/>
<rect x="231" y="81" width="1" height="19" fill="#000"/>
<rect x="230" y="89" width="3" height="4" fill="#000"/>
<rect x="231" y="90" width="1" height="2" fill="#fff"/>
<rect x="235" y="65" width="1" height="25" fill="#000"/>
<rect x="234" y="76" width="3" height="13" fill="#000"/>
<rect x="235" y="77" width="1" height="11" fill="#fff"/>
<rect x="239" y="71" width="1" height="32" fill="#000"/>
<rect x="238" y="76" width="3" height="14" fill="#000"/>
<rect x="243" y="76" width="1" height="45" fill="#000"/>
<rect x="242" y="90" width="3" height="28" fill="#000"/>
<rect x="247" y="114" width="1" height="35" fill="#000"/>
<rect x="246" y="117" width="3" height="10" fill="#000"/>
<rect x="251" y="106" width="1" height="22" fill="#000"/>
<rect x="250" y="112" width="3" height="15" fill="#000"/>
<rect x="251" y="113" width="1" height="13" fill="#fff"/>
<rect x="255" y="111" width="1" height="15" fill="#000"/>
<rect x="254" y="112" width="3" height="14" fill="#000"/>
<rect x="259" y="95" width="1" height="54" fill="#000"/>
<rect x="258" y="102" width="3" height="24" fill="#000"/>
<rect x="259" y="103" width="1" height="22" fill="#fff"/>
<rect x="263" y="102" width="1" height="48" fill="#000"/>
<rect x="262" y="102" width="3" height="31" fill="#000"/>
<rect x="267" y="101" width="1" height="46" fill="#000"/>
<rect x="266" y="104" width="3" height="29" fill="#000"/>
<rect x="267" y="105" width="1" height="27" fill="#fff"/>
<rect x="271" y="87" width="1" height="24" fill="#000"/>
<rect x="270" y="105" width="3" height="1" fill="#000"/>
<rect x="275" y="94" width="1" height="17" fill="#000"/>
<rect x="274" y="104" width="3" height="7" fill="#000"/>
<rect x="279" y="98" width="1" height="18" fill="#000"/>
<rect x="278" y="108" width="3" height="3" fill="#000"/>
<rect x="279" y="109" width="1" height="1" fill="#fff"/>
<rect x="283" y="101" width="1" height="34" fill="#000"/>
<rect x="282" y="108" width="3" height="17" fill="#000"/>
<rect x="287" y="119" width="1" height="22" fill="#000"/>
<rect x="286" y="123" width="3" height="2" fill="#000"/>
<rect x="291" y="118" width="1" height="34" fill="#000"/>
<rect x="290" y="123" width="3" height="7" fill="#000"/>
<rect x="295" y="123" width="1" height="29" fill="#000"/>
<rect x="294" y="129" width="3" height="9" fill="#000"/>
<rect x="299" y="123" width="1" height="15" fill="#000"/>
<rect x="298" y="129" width="3" height="9" fill="#000"/>
<rect x="299" y="130" width="1" height="7" fill="#fff"/>
<rect x="303" y="97" width="1" height="33" fill="#000"/>
<rect x="302" y="99" width="3" height="31" fill="#000"/>
<rect x="303" y="100" width="1" height="29" fill="#fff"/>
<rect x="307" y="96" width="1" height="41" fill="#000"/>
<rect x="306" y="100" width="3" height="27" fill="#000"/>
<rect x="311" y="78" width="1" height="55" fill="#000"/>
<rect x="310" y="89" width="3" height="37" fill="#000"/>
<rect x="311" y="90" width="1" height="35" fill="#fff"/>
<rect x="315" y="80" width="1" height="123" fill="#000"/>
<rect x="314" y="89" width="3" height="88" fill="#000"/>
<rect x="319" y="176" width="1" height="28" fill="#000"/>
<rect x="318" y="176" width="3" height="9" fill="#000"/>
<rect x="323" y="175" width="1" height="31" fill="#000"/>
<rect x="322" y="187" width="3" height="12" fill="#000"/>
<rect x="327" y="196" width="1" height="32" fill="#000"/>
<rect x="326" y="198" width="3" height="3" fill="#000"/>
<rect x="331" y="148" width="1" height="56" fill="#000"/>
<rect x="330" y="158" width="3" height="44" fill="#000"/>
<rect x="331" y="159" width="1" height="42" fill="#fff"/>
<rect x="335" y="149" width="1" height="22" fill="#000"/>
<rect x="334" y="158" width="3" height="4" fill="#000"/>
<rect x="339" y="115" width="1" height="54" fill="#000"/>
<rect x="338" y="119" width="3" height="42" fill="#000"/>
<rect x="339" y="120" width="1" height="40" fill="#fff"/>
<rect x="343" y="118" width="1" height="12" fill="#000"/>
<rect x="342" y="119" width="3" height="4" fill="#000"/>
<rect x="347" y="116" width="1" height="22" fill="#000"/>
<rect x="346" y="123" width="3" height="14" fill="#000"/>
<rect x="351" y="136" width="1" height="8" fill="#000"/>
<rect x="350" y="136" width="3" height="5" fill="#000"/>
<rect x="355" y="138" width="1" height="43" fill="#000"/>
<rect x="354" y="140" width="3" height="39" fill="#000"/>
<rect x="359" y="166" width="1" height="34" fill="#000"/>
<rect x="358" y="178" width="3" height="12" fill="#000"/>
<rect x="363" y="165" width="1" height="39" fill="#000"/>
<rect x="362" y="189" width="3" height="2" fill="#000"/>
<rect x="367" y="190" width="1" height="11" fill="#000"/>
<rect x="366" y="191" width="3" height="2" fill="#000"/>
<rect x="371" y="176" width="1" height="19" fill="#000"/>
<rect x="370" y="184" width="3" height="9" fill="#000"/>
<rect x="371" y="185" width="1" height="7" fill="#fff"/>
<rect x="375" y="174" width="1" height="12" fill="#000"/>
<rect x="374" y="184" width="3" height="1" fill="#000"/>
<rect x="379" y="175" width="1" height="31" fill="#000"/>
<rect x="378" y="184" width="3" height="8" fill="#000"/>
<rect x="383" y="185" width="1" height="38" fill="#000"/>
<rect x="382" y="191" width="3" height="28" fill="#000"/>
<rect x="387" y="182" width="1" height="41" fill="#000"/>
<rect x="386" y="206" width="3" height="13" fill="#000"/>
<rect x="387" y="207" width="1" height="11" fill="#fff"/>
<rect x="391" y="184" width="1" height="67" fill="#000"/>
<rect x="390" y="206" width="3" height="2" fill="#000"/>
<rect x="395" y="189" width="1" height="22" fill="#000"/>
<rect x="394" y="196" width="3" height="12" fill="#000"/>
<rect x="395" y="197" width="1" height="10" fill="#fff"/>
<rect x="399" y="193" width="1" height="13" fill="#000"/>
<rect x="398" y="195" width="3" height="6" fill="#000"/>
<rect x="403" y="168" width="1" height="59" fill="#000"/>
<rect x="402" y="179" width="3" height="21" fill="#000"/>
<rect x="403" y="180" width="1" height="19" fill="#fff"/>
<rect x="407" y="172" width="1" height="45" fill="#000"/>
<rect x="406" y="179" width="3" height="21" fill="#000"/>
<rect x="411" y="170" width="1" height="53" fill="#000"/>
<rect x="410" y="191" width="3" height="9" fill="#000"/>
<rect x="411" y="192" width="1" height="7" fill="#fff"/>
<rect x="415" y="191" width="1" height="17" fill="#000"/>
<rect x="414" y="192" width="3" height="1" fill="#000"/>
<rect x="419" y="186" width="1" height="24" fill="#000"/>
<rect x="418" y="191" width="3" height="18" fill="#000"/>
<rect x="423" y="192" width="1" height="23" fill="#000"/>
<rect x="422" y="194" width="3" height="14" fill="#000"/>
<rect x="423" y="195" width="1" height="12" fill="#fff"/>
<rect x="427" y="100" width="1" height="103" fill="#000"/>
<rect x="426" y="105" width="3" height="89" fill="#000"/>
<rect x="427" y="106" width="1" height="87" fill="#fff"/>
<rect x="431" y="82" width="1" height="37" fill="#000"/>
<rect x="430" y="86" width="3" height="20" fill="#000"/>
<rect x="431" y="87" width="1" height="18" fill="#fff"/>
<rect x="435" y="59" width="1" height="47" fill="#000"/>
<rect x="434" y="65" width="3" height="21" fill="#000"/>
<rect x="435" y="66" width="1" height="19" fill="#fff"/>
<rect x="439" y="55" width="1" height="19" fill="#000"/>
<rect x="438" y="65" width="3" height="6" fill="#000"/>
<rect x="443" y="36" width="1" height="24" fill="#000"/>
<rect x="442" y="36" width="3" height="21" fill="#000"/>
<rect x="447" y="53" width="1" height="11" fill="#000"/>
<rect x="446" y="56" width="3" height="6" fill="#000"/>
<rect x="451" y="45" width="1" height="38" fill="#000"/>
<rect x="450" y="61" width="3" height="12" fill="#000"/>
<rect x="455" y="64" width="1" height="22" fill="#000"/>
<rect x="454" y="72" width="3" height="10" fill="#000"/>
<rect x="459" y="75" width="1" height="32" fill="#000"/>
<rect x="458" y="81" width="3" height="11" fill="#000"/>
<rect x="463" y="90" width="1" height="17" fill="#000"/>
<rect x="462" y="91" width="3" height="16" fill="#000"/>
<rect x="467" y="88" width="1" height="19" fill="#000"/>
<rect x="466" y="95" width="3" height="12" fill="#000"/>
<rect x="467" y="96" width="1" height="10" fill="#fff"/>
<rect x="471" y="82" width="1" height="14" fill="#000"/>
<rect x="470" y="90" width="3" height="6" fill="#000"/>
<rect x="471" y="91" width="1" height="4" fill="#fff"/>
<rect x="475" y="77" width="1" height="31" fill="#000"/>
<rect x="474" y="89" width="3" height="11" fill="#000"/>
<rect x="479" y="68" width="1" height="39" fill="#000"/>
<rect x="478" y="75" width="3" height="25" fill="#000"/>
<rect x="479" y="76" width="1" height="23" fill="#fff"/>
<rect x="483" y="74" width="1" height="65" fill="#000"/>
<rect x="482" y="75" width="3" height="40" fill="#000"/>
<rect x="487" y="114" width="1" height="20" fill="#000"/>
<rect x="486" y="115" width="3" height="17" fill="#000"/>
<rect x="491" y="128" width="1" height="13" fill="#000"/>
<rect x="490" y="131" width="3" height="1" fill="#000"/>
<rect x="495" y="124" width="1" height="9" fill="#000"/>
<rect x="494" y="130" width="3" height="2" fill="#000"/>
<rect x="499" y="115" width="1" height="37" fill="#000"/>
<rect x="498" y="118" width="3" height="12" fill="#000"/>
<rect x="499" y="119" width="1" height="10" fill="#fff"/>
<rect x="503" y="103" width="1" height="55" fill="#000"/>
<rect x="502" y="118" width="3" height="23" fill="#000"/>
<rect x="507" y="137" width="1" height="44" fill="#000"/>
<rect x="506" y="141" width="3" height="20" fill="#000"/>
<rect x="511" y="159" width="1" height="13" fill="#000"/>
<rect x="510" y="161" width="3" height="2" fill="#000"/>
<rect x="515" y="152" width="1" height="15" fill="#000"/>
<rect x="514" y="152" width="3" height="10" fill="#000"/>
<rect x="515" y="153" width="1" height="8" fill="#fff"/>
<rect x="519" y="152" width="1" height="13" fill="#000"/>
<rect x="518" y="152" width="3" height="8" fill="#000"/>
<rect x="523" y="127" width="1" height="50" fill="#000"/>
<rect x="522" y="130" width="3" height="29" fill="#000"/>
<rect x="523" y="131" width="1" height="27" fill="#fff"/>
<rect x="527" y="129" width="1" height="22" fill="#000"/>
<rect x="526" y="129" width="3" height="15" fill="#000"/>
<rect x="531" y="133" width="1" height="24" fill="#000"/>
<rect x="530" y="134" width="3" height="10" fill="#000"/>
<rect x="531" y="135" width="1" height="8" fill="#fff"/>
<rect x="535" y="127" width="1" height="9" fill="#000"/>
<rect x="534" y="130" width="3" height="5" fill="#000"/>
<rect x="535" y="131" width="1" height="3" fill="#fff"/>
<rect x="539" y="114" width="1" height="18" fill="#000"/>
<rect x="538" y="125" width="3" height="5" fill="#000"/>
<rect x="539" y="126" width="1" height="3" fill="#fff"/>
<rect x="543" y="111" width="1" height="18" fill="#000"/>
<rect x="542" y="114" width="3" height="11" fill="#000"/>
<rect x="543" y="115" width="1" height="9" fill="#fff"/>
<rect x="547" y="98" width="1" height="28" fill="#000"/>
<rect x="546" y="105" width="3" height="9" fill="#000"/>
<rect x="547" y="106" width="1" height="7" fill="#fff"/>
<rect x="551" y="106" width="1" height="46" fill="#000"/>
<rect x="550" y="106" width="3" height="45" fill="#000"/>
<rect x="555" y="101" width="1" height="51" fill="#000"/>
<rect x="554" y="107" width="3" height="41" fill="#000"/>
<rect x="555" y="108" width="1" height="39" fill="#fff"/>
<rect x="559" y="107" width="1" height="11" fill="#000"/>
<rect x="558" y="107" width="3" height="11" fill="#000"/>
<rect x="563" y="84" width="1" height="37" fill="#000"/>
<rect x="562" y="96" width="3" height="17" fill="#000"/>
<rect x="563" y="97" width="1" height="15" fill="#fff"/>
<rect x="567" y="91" width="1" height="18" fill="#000"/>
<rect x="566" y="96" width="3" height="6" fill="#000"/>
<rect x="571" y="79" width="1" height="53" fill="#000"/>
<rect x="570" y="101" width="3" height="20" fill="#000"/>
<rect x="575" y="113" width="1" height="26" fill="#000"/>
<rect x="574" y="120" width="3" height="14" fill="#000"/>
<rect x="579" y="126" width="1" height="33" fill="#000"/>
<rect x="578" y="133" width="3" height="19" fill="#000"/>
<rect x="583" y="122" width="1" height="33" fill="#000"/>
<rect x="582" y="125" width="3" height="24" fill="#000"/>
<rect x="583" y="126" width="1" height="22" fill="#fff"/>
<rect x="587" y="115" width="1" height="14" fill="#000"/>
<rect x="586" y="119" width="3" height="7" fill="#000"/>
<rect x="587" y="120" width="1" height="5" fill="#fff"/>
<rect x="591" y="114" width="1" height="9" fill="#000"/>
<rect x="590" y="116" width="3" height="3" fill="#000"/>
<rect x="591" y="117" width="1" height="1" fill="#fff"/>
<rect x="595" y="114" width="1" height="6" fill="#000"/>
<rect x="594" y="115" width="3" height="1" fill="#000"/>
</g>
<g shape-rendering="crispEdges" stroke-linejoin="round" stroke-linecap="round">
<polyline points="3.0,474.5 10.0,482.0 20.0,492.0 28.0,496.5 33.0,496.0 40.0,490.8 50.0,474.5 60.0,448.0 70.0,427.0 80.0,412.0 90.0,395.0 96.5,386.0 103.0,377.5 107.4,375.2 112.0,374.6 113.0,373.8 115.6,373.8 118.0,375.7 123.7,381.2 130.0,390.5 140.0,408.0 150.0,423.0 160.0,434.5 165.0,436.5 170.0,435.8 180.0,425.8 190.0,412.0 200.0,400.0 207.0,400.0 212.0,405.8 220.0,419.5 230.0,437.0 240.0,448.3 250.0,454.0 260.0,458.3 270.0,465.8 280.0,472.0 290.0,477.0 300.0,481.3 310.0,482.0 317.0,485.8 325.0,493.3 333.0,500.8 340.0,506.0 348.0,508.8 356.0,508.8 364.0,507.0 372.0,506.5 380.0,509.5 388.0,515.8 395.0,520.8 402.0,522.0 412.0,522.0 420.0,520.8 427.0,515.8 433.0,504.5 440.0,487.0 447.0,467.0 454.0,448.3 460.0,432.0 466.0,422.0 472.0,417.0 478.0,416.3 483.0,417.8 490.0,423.3 498.0,432.0 506.0,444.0 512.0,455.0 518.0,466.6 524.0,473.4 530.0,480.0 536.0,485.2 540.0,486.8 545.0,486.8 550.0,486.0 556.0,481.8 562.0,479.3 568.0,475.0 575.0,471.7 582.0,471.2 588.0,470.5 596.0,470.0" fill="none" stroke="#ff0000" stroke-width="2" />
</g>
<g shape-rendering="crispEdges" stroke-linejoin="round">
<polyline points="3.5,665.0 7.5,665.7 11.5,665.3 15.5,663.3 19.5,660.8 23.5,659.8 27.5,659.2 31.5,645.8 35.5,617.3 39.5,581.2 43.5,562.0 47.5,562.0 51.5,573.7 55.5,583.0 59.5,587.5 63.5,585.0 67.5,577.3 71.5,567.7 75.5,563.3 79.5,562.9 83.5,565.9 87.5,568.4 91.5,573.0 95.5,580.6 99.5,587.4 103.5,590.3 107.5,589.0 111.5,591.0 115.5,599.8 119.5,614.0 123.5,629.5 127.5,646.2 131.5,665.3 135.5,680.1 139.5,677.6 143.5,656.8 147.5,625.8 151.5,605.8 155.5,595.1 159.5,598.0 163.5,604.7 167.5,605.3 171.5,592.2 175.5,570.1 179.5,554.7 183.5,550.0 187.5,551.9 191.5,555.8 195.5,563.7 199.5,578.8 203.5,604.5 207.5,631.2 211.5,652.4 215.5,665.4 219.5,668.2 223.5,661.1 227.5,645.7 231.5,633.7 235.5,626.5 239.5,624.3 243.5,626.0 247.5,633.2 251.5,641.2 255.5,645.8 259.5,641.6 263.5,640.3 267.5,636.0 271.5,637.3 275.5,631.1 279.5,629.1 283.5,629.5 287.5,637.0 291.5,647.0 295.5,655.7 299.5,661.9 303.5,655.3 307.5,642.9 311.5,619.5 315.5,616.2 319.5,625.8 323.5,657.0 327.5,678.7 331.5,684.5 335.5,670.3 339.5,646.2 343.5,624.5 347.5,607.4 351.5,602.4 355.5,607.8 359.5,624.8 363.5,645.3 367.5,660.3 371.5,665.3 375.5,660.8 379.5,657.5 383.5,663.3 387.5,677.3 391.5,684.5 395.5,677.8 399.5,661.2 403.5,644.9 407.5,632.4 411.5,618.6 415.5,608.2 419.5,601.7 423.5,602.0 427.5,597.0 431.5,580.5 435.5,561.1 439.5,548.9 443.5,548.8 447.5,552.7 451.5,557.7 455.5,564.2 459.5,572.7 463.5,583.0 467.5,591.7 471.5,596.9 475.5,598.3 479.5,599.9 483.5,609.3 487.5,632.3 491.5,660.7 495.5,684.3 499.5,690.2 503.5,686.8 507.5,679.4 511.5,679.4 515.5,680.4 519.5,681.6 523.5,674.1 527.5,665.8 531.5,654.1 535.5,644.1 539.5,627.4 543.5,606.6 547.5,585.8 551.5,579.8 555.5,581.5 559.5,590.5 563.5,583.8 567.5,579.2 571.5,575.6 575.5,592.8 579.5,620.8 583.5,647.0 587.5,657.8 591.5,649.5 595.5,635.7" fill="none" stroke="#ff0000" stroke-width="1" stroke-dasharray="3 3" />
<polyline points="3.5,665.8 7.5,667.0 11.5,663.0 15.5,660.0 19.5,659.5 23.5,660.0 27.5,658.0 31.5,619.5 35.5,574.5 39.5,549.5 43.5,562.0 47.5,574.5 51.5,584.5 55.5,590.0 59.5,588.0 63.5,577.0 67.5,567.0 71.5,559.0 75.5,564.0 79.5,565.8 83.5,568.0 87.5,571.5 91.5,579.5 95.5,590.8 99.5,592.0 103.5,588.0 107.5,587.0 111.5,598.0 115.5,614.5 119.5,629.5 123.5,644.5 127.5,664.5 131.5,687.0 135.5,688.8 139.5,657.0 143.5,624.5 147.5,595.8 151.5,597.0 155.5,592.5 159.5,604.5 163.5,617.0 167.5,594.5 171.5,565.0 175.5,550.8 179.5,548.3 183.5,550.8 187.5,556.5 191.5,560.0 195.5,574.5 199.5,602.0 203.5,637.0 207.5,654.5 211.5,665.8 215.5,675.8 219.5,663.0 223.5,644.5 227.5,629.5 231.5,627.0 235.5,623.0 239.5,623.0 243.5,632.0 247.5,644.5 251.5,647.0 255.5,645.8 259.5,632.0 263.5,643.0 267.5,633.0 271.5,635.8 275.5,624.5 279.5,627.0 283.5,637.0 287.5,647.0 291.5,657.0 295.5,663.0 299.5,665.8 303.5,637.0 307.5,625.8 311.5,595.8 315.5,627.0 319.5,654.5 323.5,689.5 327.5,692.0 331.5,672.0 335.5,647.0 339.5,619.5 343.5,607.0 347.5,595.8 351.5,604.5 355.5,623.0 359.5,647.0 363.5,665.8 367.5,668.0 371.5,662.0 375.5,652.5 379.5,658.0 383.5,679.5 387.5,694.5 391.5,679.5 395.5,659.5 399.5,644.5 403.5,630.8 407.5,622.0 411.5,603.0 415.5,599.5 419.5,602.5 423.5,604.0 427.5,584.5 431.5,553.0 435.5,545.8 439.5,548.0 443.5,552.5 447.5,557.5 451.5,563.0 455.5,572.0 459.5,583.0 463.5,594.0 467.5,598.0 471.5,598.8 475.5,598.0 479.5,603.0 483.5,627.0 487.5,667.0 491.5,688.0 495.5,698.0 499.5,684.5 503.5,678.0 507.5,675.8 511.5,684.5 515.5,680.8 519.5,679.5 523.5,662.0 527.5,655.8 531.5,644.5 535.5,632.0 539.5,605.8 543.5,582.0 547.5,569.5 551.5,588.0 555.5,587.0 559.5,596.5 563.5,568.0 567.5,573.0 571.5,585.8 575.5,619.5 579.5,657.0 583.5,664.5 587.5,652.0 591.5,632.0 595.5,623.0" fill="none" stroke="#20b2aa" stroke-width="1" />
</g>
<g shape-rendering="crispEdges">
<rect x="670" y="0" width="42" height="732" fill="#fff"/>
<line x1="2" y1="2.5" x2="670" y2="2.5" stroke="#000" stroke-width="1"/>
<line x1="2" y1="357.5" x2="670" y2="357.5" stroke="#000" stroke-width="1"/>
<line x1="2.5" y1="2" x2="2.5" y2="358" stroke="#000" stroke-width="1"/>
<line x1="2" y1="359.5" x2="670" y2="359.5" stroke="#000" stroke-width="1"/>
<line x1="2" y1="536.5" x2="670" y2="536.5" stroke="#000" stroke-width="1"/>
<line x1="2.5" y1="359" x2="2.5" y2="537" stroke="#000" stroke-width="1"/>
<line x1="2" y1="538.5" x2="670" y2="538.5" stroke="#000" stroke-width="1"/>
<line x1="2" y1="714.5" x2="670" y2="714.5" stroke="#000" stroke-width="1"/>
<line x1="2.5" y1="538" x2="2.5" y2="715" stroke="#000" stroke-width="1"/>
<line x1="669.5" y1="2" x2="669.5" y2="715" stroke="#000" stroke-width="1"/>
<rect x="0" y="715" width="712" height="20" fill="#fff"/>
<line x1="3.5" y1="715" x2="3.5" y2="718" stroke="#000" stroke-width="1"/>
<line x1="67.5" y1="715" x2="67.5" y2="718" stroke="#000" stroke-width="1"/>
<line x1="131.5" y1="715" x2="131.5" y2="718" stroke="#000" stroke-width="1"/>
<line x1="195.5" y1="715" x2="195.5" y2="718" stroke="#000" stroke-width="1"/>
<line x1="259.5" y1="715" x2="259.5" y2="718" stroke="#000" stroke-width="1"/>
<line x1="323.5" y1="715" x2="323.5" y2="718" stroke="#000" stroke-width="1"/>
<line x1="387.5" y1="715" x2="387.5" y2="718" stroke="#000" stroke-width="1"/>
<line x1="451.5" y1="715" x2="451.5" y2="718" stroke="#000" stroke-width="1"/>
<line x1="515.5" y1="715" x2="515.5" y2="718" stroke="#000" stroke-width="1"/>
<line x1="579.5" y1="715" x2="579.5" y2="718" stroke="#000" stroke-width="1"/>
</g>
<g shape-rendering="crispEdges">
<rect x="670" y="57" width="2" height="1" fill="#000"/>
<rect x="670" y="90" width="2" height="1" fill="#000"/>
<rect x="670" y="123" width="2" height="1" fill="#000"/>
<rect x="670" y="156" width="2" height="1" fill="#000"/>
<rect x="670" y="189" width="2" height="1" fill="#000"/>
<rect x="670" y="222" width="2" height="1" fill="#000"/>
<rect x="670" y="255" width="2" height="1" fill="#000"/>
<rect x="670" y="288" width="2" height="1" fill="#000"/>
<rect x="670" y="321" width="2" height="1" fill="#000"/>
<rect x="670" y="354" width="2" height="1" fill="#000"/>
<rect x="670" y="361" width="1" height="1" fill="#000"/>
<rect x="670" y="477" width="1" height="1" fill="#000"/>
<rect x="670" y="535" width="1" height="1" fill="#000"/>
<rect x="670" y="540" width="1" height="1" fill="#000"/>
<rect x="670" y="574" width="1" height="1" fill="#000"/>
<rect x="670" y="679" width="1" height="1" fill="#000"/>
<rect x="670" y="713" width="1" height="1" fill="#000"/>
</g>
<text x="675" y="60" fill="#000" stroke="#000" textLength="32.5" lengthAdjust="spacingAndGlyphs">0.97065</text>
<text x="675" y="93" fill="#000" stroke="#000" textLength="32.5" lengthAdjust="spacingAndGlyphs">0.96765</text>
<text x="675" y="126" fill="#000" stroke="#000" textLength="32.5" lengthAdjust="spacingAndGlyphs">0.96460</text>
<text x="675" y="159" fill="#000" stroke="#000" textLength="32.5" lengthAdjust="spacingAndGlyphs">0.96160</text>
<text x="675" y="192" fill="#000" stroke="#000" textLength="32.5" lengthAdjust="spacingAndGlyphs">0.95855</text>
<text x="675" y="225" fill="#000" stroke="#000" textLength="32.5" lengthAdjust="spacingAndGlyphs">0.95550</text>
<text x="675" y="258" fill="#000" stroke="#000" textLength="32.5" lengthAdjust="spacingAndGlyphs">0.95250</text>
<text x="675" y="291" fill="#000" stroke="#000" textLength="32.5" lengthAdjust="spacingAndGlyphs">0.94945</text>
<text x="675" y="324" fill="#000" stroke="#000" textLength="32.5" lengthAdjust="spacingAndGlyphs">0.94645</text>
<text x="675" y="357" fill="#000" stroke="#000" textLength="32.5" lengthAdjust="spacingAndGlyphs">0.94340</text>
<rect x="671" y="59" width="41" height="11" fill="#90ee90" shape-rendering="crispEdges"/>
<text x="675" y="68" fill="#fff" stroke="#fff" textLength="32.5" lengthAdjust="spacingAndGlyphs">0.97000</text>
<rect x="671" y="91" width="41" height="11" fill="#90ee90" shape-rendering="crispEdges"/>
<text x="675" y="100" fill="#fff" stroke="#fff" textLength="32.5" lengthAdjust="spacingAndGlyphs">0.96700</text>
<rect x="671" y="143" width="41" height="11" fill="#90ee90" shape-rendering="crispEdges"/>
<text x="675" y="152" fill="#fff" stroke="#fff" textLength="32.5" lengthAdjust="spacingAndGlyphs">0.96225</text>
<rect x="671" y="157" width="41" height="11" fill="#90ee90" shape-rendering="crispEdges"/>
<text x="675" y="166" fill="#fff" stroke="#fff" textLength="32.5" lengthAdjust="spacingAndGlyphs">0.96100</text>
<rect x="671" y="173" width="41" height="11" fill="#90ee90" shape-rendering="crispEdges"/>
<text x="675" y="182" fill="#fff" stroke="#fff" textLength="32.5" lengthAdjust="spacingAndGlyphs">0.95950</text>
<rect x="671" y="200" width="41" height="11" fill="#90ee90" shape-rendering="crispEdges"/>
<text x="675" y="209" fill="#fff" stroke="#fff" textLength="32.5" lengthAdjust="spacingAndGlyphs">0.95700</text>
<rect x="671" y="216" width="41" height="11" fill="#90ee90" shape-rendering="crispEdges"/>
<text x="675" y="225" fill="#fff" stroke="#fff" textLength="32.5" lengthAdjust="spacingAndGlyphs">0.95550</text>
<rect x="671" y="244" width="41" height="11" fill="#90ee90" shape-rendering="crispEdges"/>
<text x="675" y="253" fill="#fff" stroke="#fff" textLength="32.5" lengthAdjust="spacingAndGlyphs">0.95300</text>
<rect x="671" y="295" width="41" height="11" fill="#90ee90" shape-rendering="crispEdges"/>
<text x="675" y="304" fill="#fff" stroke="#fff" textLength="32.5" lengthAdjust="spacingAndGlyphs">0.94825</text>
<rect x="671" y="342" width="41" height="11" fill="#90ee90" shape-rendering="crispEdges"/>
<text x="675" y="351" fill="#fff" stroke="#fff" textLength="32.5" lengthAdjust="spacingAndGlyphs">0.94400</text>
<rect x="671" y="20" width="41" height="11" fill="#008080" shape-rendering="crispEdges"/>
<text x="675" y="29" fill="#fff" stroke="#fff" textLength="32.5" lengthAdjust="spacingAndGlyphs">0.97350</text>
<rect x="671" y="320" width="41" height="11" fill="#008080" shape-rendering="crispEdges"/>
<text x="675" y="329" fill="#fff" stroke="#fff" textLength="32.5" lengthAdjust="spacingAndGlyphs">0.94600</text>
<rect x="671" y="109" width="41" height="11" fill="#000" shape-rendering="crispEdges"/>
<text x="675" y="118" fill="#fff" stroke="#fff" textLength="32.5" lengthAdjust="spacingAndGlyphs">0.96535</text>
<text x="673.2" y="370" fill="#000" stroke="#000" textLength="37" lengthAdjust="spacingAndGlyphs">0.004195</text>
<text x="673.2" y="480" fill="#000" stroke="#000" textLength="17" lengthAdjust="spacingAndGlyphs">0.00</text>
<text x="673.2" y="533" fill="#000" stroke="#000" textLength="40.5" lengthAdjust="spacingAndGlyphs">-0.002119</text>
<text x="673.3" y="549" fill="#000" stroke="#000" textLength="14.5" lengthAdjust="spacingAndGlyphs">100</text>
<text x="672.5" y="577" fill="#000" stroke="#000" textLength="9.8" lengthAdjust="spacingAndGlyphs">80</text>
<text x="672.5" y="682" fill="#000" stroke="#000" textLength="9.8" lengthAdjust="spacingAndGlyphs">20</text>
<text x="673.2" y="711" fill="#000" stroke="#000" textLength="4.8" lengthAdjust="spacingAndGlyphs">0</text>
<polygon points="6,9 14,9 10,13" fill="#000"/>
<text x="18" y="14" fill="#000" stroke="#000" textLength="54.5" lengthAdjust="spacingAndGlyphs">USDCHF,H4</text>
<text x="79" y="14" fill="#000" stroke="#000" textLength="32.5" lengthAdjust="spacingAndGlyphs">0.96527</text>
<text x="115" y="14" fill="#000" stroke="#000" textLength="32.5" lengthAdjust="spacingAndGlyphs">0.96543</text>
<text x="151" y="14" fill="#000" stroke="#000" textLength="32.5" lengthAdjust="spacingAndGlyphs">0.96502</text>
<text x="187" y="14" fill="#000" stroke="#000" textLength="32.5" lengthAdjust="spacingAndGlyphs">0.96535</text>
<text x="7.5" y="372" fill="#000" stroke="#000" textLength="65.5" lengthAdjust="spacingAndGlyphs">MACD(12,26,9)</text>
<text x="76.5" y="372" fill="#000" stroke="#000" textLength="37" lengthAdjust="spacingAndGlyphs">0.000195</text>
<text x="117.5" y="372" fill="#000" stroke="#000" textLength="37.5" lengthAdjust="spacingAndGlyphs">0.000246</text>
<text x="7.5" y="551" fill="#000" stroke="#000" textLength="53.5" lengthAdjust="spacingAndGlyphs">Stoch(13,3,3)</text>
<text x="65.2" y="551" fill="#000" stroke="#000" textLength="32" lengthAdjust="spacingAndGlyphs">52.6171</text>
<text x="101.6" y="551" fill="#000" stroke="#000" textLength="32.4" lengthAdjust="spacingAndGlyphs">45.4699</text>
<text x="7.7" y="710" fill="#000" stroke="#000" textLength="24" lengthAdjust="spacingAndGlyphs">FxPro</text>
<text x="35" y="710" fill="#000" stroke="#000" textLength="20" lengthAdjust="spacingAndGlyphs">MT4,</text>
<text x="58.6" y="710" fill="#000" stroke="#000" textLength="8.2" lengthAdjust="spacingAndGlyphs">&#169;</text>
<text x="70.2" y="710" fill="#000" stroke="#000" textLength="43.8" lengthAdjust="spacingAndGlyphs">2001-2014,</text>
<text x="119.4" y="710" fill="#000" stroke="#000" textLength="51" lengthAdjust="spacingAndGlyphs">MetaQuotes</text>
<text x="174.5" y="710" fill="#000" stroke="#000" textLength="38.5" lengthAdjust="spacingAndGlyphs">Software</text>
<text x="216" y="710" fill="#000" stroke="#000" textLength="20" lengthAdjust="spacingAndGlyphs">Corp.</text>
<text x="3.3" y="727" fill="#000" stroke="#000" textLength="50" lengthAdjust="spacingAndGlyphs">28 Oct 2014</text>
<text x="67.3" y="727" fill="#000" stroke="#000" textLength="52.6" lengthAdjust="spacingAndGlyphs">31 Oct 08:00</text>
<text x="131.3" y="727" fill="#000" stroke="#000" textLength="51" lengthAdjust="spacingAndGlyphs">5 Nov 00:00</text>
<text x="195.3" y="727" fill="#000" stroke="#000" textLength="51" lengthAdjust="spacingAndGlyphs">7 Nov 16:00</text>
<text x="259.3" y="727" fill="#000" stroke="#000" textLength="55" lengthAdjust="spacingAndGlyphs">12 Nov 08:00</text>
<text x="323.3" y="727" fill="#000" stroke="#000" textLength="55" lengthAdjust="spacingAndGlyphs">17 Nov 00:00</text>
<text x="387.3" y="727" fill="#000" stroke="#000" textLength="55" lengthAdjust="spacingAndGlyphs">19 Nov 16:00</text>
<text x="451.3" y="727" fill="#000" stroke="#000" textLength="55" lengthAdjust="spacingAndGlyphs">24 Nov 08:00</text>
<text x="515.3" y="727" fill="#000" stroke="#000" textLength="55" lengthAdjust="spacingAndGlyphs">27 Nov 00:00</text>
<text x="579.3" y="727" fill="#000" stroke="#000" textLength="50" lengthAdjust="spacingAndGlyphs">1 Dec 16:00</text>
</svg>
</body></html>
